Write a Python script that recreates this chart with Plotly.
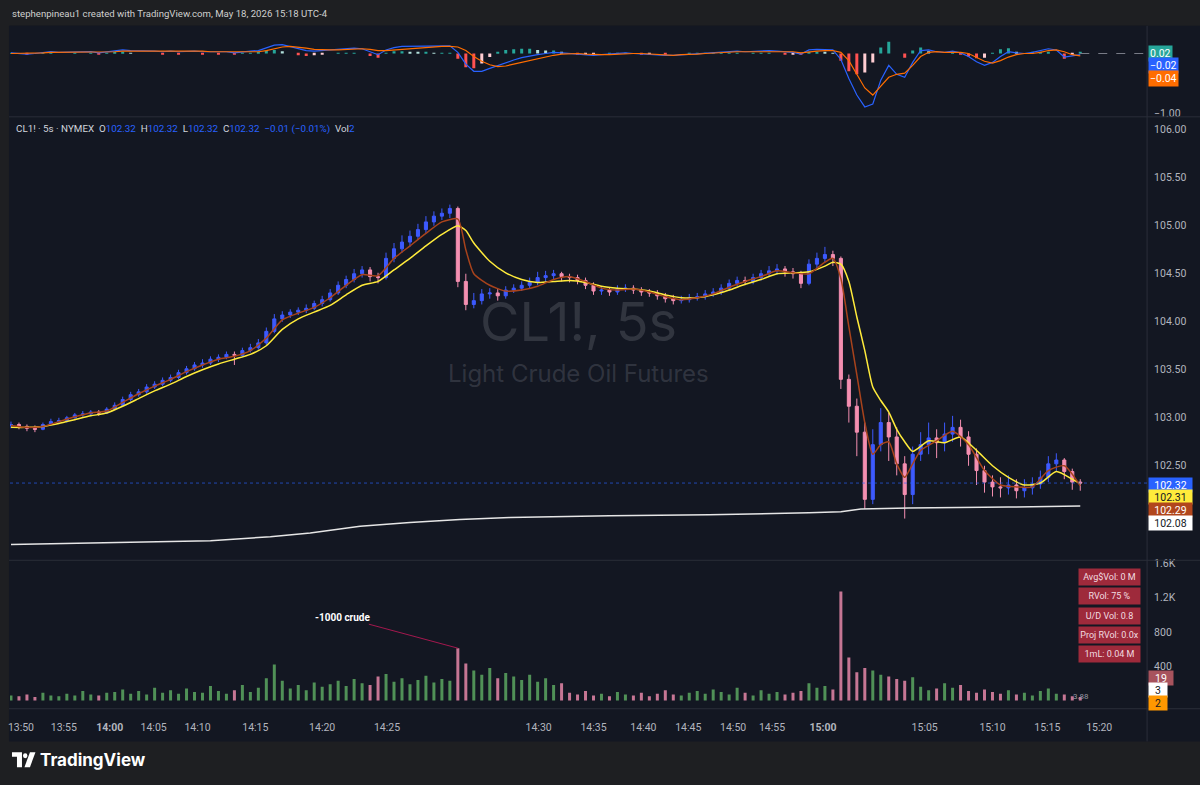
import plotly.graph_objects as go

W, H = 1200, 785
def px(x): return x / W
def py(y): return 1 - y / H

NAVY = "#131722"
FRAME = "#1e1f22"
SEP = "#2a2e39"
AX = "#b2b5be"
UP = "#3d5afe"
DN = "#f48fb1"
FONT = "Roboto"

# ---------------- data ----------------
bar_x = [8 * i for i in range(135)]   # bar index positions (x axis units)

close = [
    102.93, 102.91, 102.89, 102.88, 102.93, 102.96, 102.97, 103.00, 103.03, 103.04,
    103.06, 103.05, 103.09, 103.13, 103.19, 103.24, 103.27, 103.32, 103.35, 103.39,
    103.42, 103.47, 103.51, 103.55, 103.57, 103.61, 103.63, 103.66, 103.65, 103.70,
    103.73, 103.78, 103.90, 104.03, 104.07, 104.10, 104.12, 104.14, 104.19, 104.23,
    104.30, 104.38, 104.44, 104.50, 104.54, 104.47, 104.46, 104.66, 104.76, 104.83,
    104.89, 104.96, 105.04, 105.10, 105.13, 105.18, 104.42, 104.18, 104.22, 104.29,
    104.30, 104.27, 104.33, 104.35, 104.38, 104.41, 104.46, 104.48, 104.50, 104.47,
    104.46, 104.43, 104.38, 104.32, 104.33, 104.31, 104.34, 104.35, 104.33, 104.31,
    104.30, 104.27, 104.24, 104.22, 104.23, 104.25, 104.26, 104.29, 104.31, 104.35,
    104.40, 104.43, 104.42, 104.46, 104.50, 104.53, 104.55, 104.52, 104.50, 104.40,
    104.60, 104.66, 104.70, 104.66, 103.40, 103.12, 102.85, 102.15, 102.72, 102.95,
    102.80, 102.52, 102.20, 102.62, 102.72, 102.79, 102.74, 102.83, 102.90, 102.80,
    102.62, 102.45, 102.33, 102.28, 102.27, 102.30, 102.24, 102.27, 102.31, 102.38,
    102.52, 102.56, 102.44, 102.33, 102.32,
]
high = [
    102.96, 102.95, 102.93, 102.92, 102.95, 102.99, 103.00, 103.02, 103.05, 103.07,
    103.08, 103.08, 103.11, 103.16, 103.22, 103.27, 103.30, 103.35, 103.38, 103.42,
    103.45, 103.50, 103.54, 103.58, 103.61, 103.64, 103.66, 103.69, 103.69, 103.73,
    103.77, 103.82, 103.94, 104.08, 104.11, 104.13, 104.15, 104.18, 104.22, 104.27,
    104.34, 104.42, 104.48, 104.55, 104.58, 104.57, 104.51, 104.72, 104.82, 104.90,
    104.95, 105.02, 105.10, 105.15, 105.18, 105.22, 105.20, 104.50, 104.30, 104.34,
    104.35, 104.34, 104.37, 104.39, 104.42, 104.46, 104.52, 104.53, 104.54, 104.52,
    104.50, 104.49, 104.46, 104.41, 104.37, 104.36, 104.38, 104.39, 104.38, 104.36,
    104.34, 104.33, 104.30, 104.28, 104.27, 104.29, 104.30, 104.33, 104.35, 104.39,
    104.44, 104.47, 104.47, 104.50, 104.54, 104.58, 104.60, 104.58, 104.56, 104.53,
    104.65, 104.72, 104.78, 104.74, 104.68, 103.45, 103.20, 102.95, 102.88, 103.10,
    103.05, 102.90, 102.60, 102.70, 102.85, 102.95, 102.88, 102.95, 103.02, 102.98,
    102.86, 102.68, 102.50, 102.40, 102.38, 102.40, 102.36, 102.36, 102.38, 102.45,
    102.60, 102.63, 102.58, 102.47, 102.36,
]
low = [
    102.89, 102.88, 102.86, 102.85, 102.87, 102.92, 102.94, 102.95, 102.99, 103.01,
    103.02, 103.02, 103.04, 103.08, 103.12, 103.17, 103.22, 103.25, 103.30, 103.33,
    103.37, 103.40, 103.45, 103.49, 103.52, 103.55, 103.58, 103.61, 103.55, 103.63,
    103.68, 103.71, 103.76, 103.88, 104.00, 104.04, 104.07, 104.09, 104.12, 104.16,
    104.21, 104.28, 104.35, 104.41, 104.46, 104.42, 104.40, 104.44, 104.62, 104.72,
    104.78, 104.85, 104.92, 105.00, 105.06, 105.08, 104.36, 104.12, 104.14, 104.18,
    104.24, 104.22, 104.24, 104.30, 104.32, 104.35, 104.38, 104.42, 104.44, 104.42,
    104.41, 104.39, 104.34, 104.28, 104.28, 104.27, 104.28, 104.31, 104.29, 104.27,
    104.26, 104.23, 104.20, 104.18, 104.19, 104.20, 104.22, 104.23, 104.26, 104.28,
    104.32, 104.37, 104.38, 104.39, 104.43, 104.47, 104.49, 104.47, 104.45, 104.35,
    104.38, 104.56, 104.62, 104.58, 103.30, 102.95, 102.60, 102.05, 102.10, 102.65,
    102.55, 102.40, 101.95, 102.10, 102.55, 102.62, 102.58, 102.65, 102.75, 102.70,
    102.50, 102.30, 102.22, 102.18, 102.17, 102.20, 102.16, 102.17, 102.20, 102.26,
    102.33, 102.44, 102.36, 102.25, 102.24,
]
first_open = 102.92

vol = [
    60, 50, 70, 40, 90, 60, 50, 80, 60, 110,
    70, 60, 90, 100, 130, 80, 110, 70, 150, 90,
    120, 80, 140, 100, 90, 170, 110, 80, 120, 180,
    100, 150, 260, 420, 230, 140, 180, 120, 210, 160,
    190, 230, 170, 250, 200, 180, 280, 310, 220, 260,
    190, 240, 290, 210, 250, 230, 610, 430, 350, 300,
    380, 260, 320, 280, 240, 300, 220, 260, 180, 200,
    90, 70, 110, 60, 80, 50, 100, 70, 60, 90,
    50, 80, 120, 70, 60, 90, 110, 80, 130, 100,
    70, 150, 90, 60, 120, 80, 100, 70, 90, 110,
    200, 150, 170, 130, 1270, 500, 330, 380, 350, 300,
    280, 250, 230, 270, 160, 120, 140, 200, 150, 180,
    110, 90, 130, 100, 80, 120, 70, 90, 60, 110,
    140, 80, 70, 50, 40,
]

macd = [
    0.01, 0.00, -0.01, 0.00, 0.02, 0.03, 0.02, 0.02, 0.03, 0.02,
    0.03, 0.01, 0.03, 0.05, 0.06, 0.05, 0.05, 0.04, 0.04, 0.03,
    0.04, 0.03, 0.04, 0.04, 0.03, 0.03, 0.02, 0.03, 0.01, 0.03,
    0.04, 0.05, 0.10, 0.14, 0.15, 0.12, 0.08, 0.05, 0.04, 0.05,
    0.06, 0.07, 0.08, 0.09, 0.08, 0.03, -0.02, 0.06, 0.10, 0.12,
    0.12, 0.12, 0.13, 0.13, 0.13, 0.13, 0.02, -0.18, -0.30, -0.30,
    -0.25, -0.20, -0.15, -0.11, -0.07, -0.04, -0.02, 0.00, 0.02, 0.01,
    0.00, -0.01, -0.02, -0.03, -0.02, -0.01, 0.00, 0.01, 0.00, -0.01,
    -0.02, -0.02, -0.03, -0.03, -0.02, -0.01, 0.00, 0.01, 0.02, 0.03,
    0.04, 0.04, 0.03, 0.04, 0.05, 0.05, 0.04, 0.03, 0.02, -0.01,
    0.06, 0.07, 0.07, 0.06, -0.10, -0.42, -0.70, -0.90, -0.85, -0.45,
    -0.20, -0.35, -0.40, -0.15, 0.05, 0.06, 0.03, 0.02, 0.04, 0.01,
    -0.05, -0.14, -0.20, -0.15, -0.05, 0.03, 0.01, 0.00, 0.02, 0.05,
    0.08, 0.06, -0.06, -0.04, -0.02,
]
signal = [
    0.00, 0.00, 0.00, 0.00, 0.01, 0.02, 0.02, 0.02, 0.02, 0.02,
    0.02, 0.02, 0.02, 0.03, 0.04, 0.04, 0.05, 0.04, 0.04, 0.04,
    0.04, 0.04, 0.04, 0.04, 0.04, 0.03, 0.03, 0.03, 0.02, 0.02,
    0.03, 0.03, 0.05, 0.08, 0.11, 0.12, 0.11, 0.09, 0.07, 0.06,
    0.06, 0.06, 0.07, 0.08, 0.08, 0.07, 0.05, 0.05, 0.06, 0.08,
    0.09, 0.10, 0.11, 0.12, 0.12, 0.12, 0.11, 0.05, -0.05, -0.13,
    -0.19, -0.22, -0.21, -0.18, -0.15, -0.12, -0.08, -0.05, -0.03, -0.01,
    0.00, 0.00, -0.01, -0.02, -0.02, -0.02, -0.01, 0.00, 0.00, 0.00,
    -0.01, -0.02, -0.02, -0.03, -0.02, -0.02, -0.01, 0.00, 0.01, 0.02,
    0.03, 0.03, 0.03, 0.03, 0.04, 0.04, 0.04, 0.04, 0.03, 0.01,
    0.03, 0.04, 0.05, 0.05, 0.02, -0.12, -0.35, -0.58, -0.70, -0.55,
    -0.40, -0.35, -0.33, -0.20, -0.05, 0.02, 0.03, 0.02, 0.02, 0.02,
    0.00, -0.06, -0.13, -0.16, -0.12, -0.06, -0.02, 0.00, 0.00, 0.02,
    0.05, 0.06, 0.03, -0.02, -0.04,
]

slow_x = [0, 16, 32, 48, 64, 80, 96, 112, 128, 144, 160, 176, 192, 208, 224, 240, 256, 272,
          288, 304, 320, 336, 352, 368, 384, 400, 416, 432, 448, 456, 464, 480, 496, 512, 528,
          544, 560, 576, 592, 608, 624, 640, 656, 672, 688, 704, 720, 736, 752, 768, 784, 800,
          816, 824, 832, 840, 848, 856, 864, 872, 880, 888, 896, 904, 920, 936, 952, 968, 984,
          1000, 1016, 1032, 1048, 1064, 1072]
slow = [102.90, 102.90, 102.91, 102.94, 102.98, 103.02, 103.05, 103.12, 103.20, 103.28,
        103.35, 103.43, 103.50, 103.56, 103.61, 103.66, 103.75, 103.92, 104.03, 104.10,
        104.17, 104.28, 104.38, 104.42, 104.54, 104.66, 104.79, 104.91, 105.00, 104.95,
        104.82, 104.63, 104.51, 104.44, 104.41, 104.42, 104.43, 104.41, 104.37, 104.35,
        104.34, 104.32, 104.28, 104.25, 104.25, 104.28, 104.33, 104.39, 104.44, 104.50,
        104.51, 104.52, 104.58, 104.62, 104.60, 104.42, 104.05, 103.70, 103.32, 103.18,
        103.06, 102.88, 102.75, 102.65, 102.76, 102.74, 102.80, 102.66, 102.50, 102.38,
        102.30, 102.32, 102.44, 102.36, 102.31]

fast_x = [0, 16, 32, 48, 64, 80, 96, 112, 128, 144, 160, 176, 192, 208, 224, 240, 256, 272,
          288, 304, 320, 336, 352, 368, 384, 400, 416, 432, 448, 456, 464, 480, 496, 512, 528,
          544, 560, 576, 592, 608, 624, 640, 656, 672, 688, 704, 720, 736, 752, 768, 784, 800,
          816, 824, 832, 840, 848, 856, 864, 872, 880, 888, 896, 904, 912, 928, 944, 960, 976,
          992, 1008, 1024, 1040, 1056, 1072]
fast = [102.92, 102.90, 102.91, 102.96, 103.01, 103.05, 103.07, 103.16, 103.25, 103.33,
        103.40, 103.48, 103.55, 103.61, 103.64, 103.70, 103.83, 104.02, 104.09, 104.15,
        104.25, 104.38, 104.49, 104.48, 104.66, 104.79, 104.92, 105.04, 105.07, 104.75,
        104.50, 104.38, 104.32, 104.33, 104.37, 104.44, 104.47, 104.42, 104.35, 104.33,
        104.34, 104.31, 104.26, 104.23, 104.25, 104.29, 104.36, 104.42, 104.47, 104.53,
        104.51, 104.50, 104.62, 104.66, 104.45, 103.95, 103.45, 102.95, 102.62, 102.72,
        102.75, 102.52, 102.38, 102.52, 102.66, 102.76, 102.86, 102.72, 102.45, 102.30,
        102.28, 102.28, 102.45, 102.50, 102.29]

vwap_x = [0, 100, 200, 260, 300, 350, 400, 450, 500, 600, 700, 800, 832, 852, 900, 1000, 1072]
vwap = [101.68, 101.70, 101.72, 101.76, 101.80, 101.87, 101.91, 101.94, 101.96, 101.98,
        101.99, 102.01, 102.02, 102.05, 102.06, 102.07, 102.08]

tick_vals = [10, 53, 99, 143, 187, 245, 312, 377, 529, 584, 634, 679, 724, 763, 814, 916, 984, 1039, 1091]
tick_text = ["13:50", "13:55", "<b>14:00</b>", "14:05", "14:10", "14:15", "14:20", "14:25",
             "14:30", "14:35", "14:40", "14:45", "14:50", "14:55", "<b>15:00</b>", "15:05",
             "15:10", "15:15", "15:20"]

assert len(close) == len(high) == len(low) == len(vol) == len(macd) == len(signal) == len(bar_x)
assert len(slow_x) == len(slow) and len(fast_x) == len(fast) and len(vwap_x) == len(vwap)

# ---------------- derived ----------------
open_ = [first_open] + close[:-1]
is_up = [c >= o for o, c in zip(open_, close)]
vol_colors = ["rgba(102,187,106,0.75)" if u else "rgba(244,143,177,0.8)" for u in is_up]
hist = [round(m - s, 3) for m, s in zip(macd, signal)]
hist_colors = []
for i, h in enumerate(hist):
    prev = hist[i - 1] if i else 0
    if h >= 0:
        hist_colors.append("#26a69a" if h >= prev else "#b2dfdb")
    else:
        hist_colors.append("#ff5252" if h < prev else "#ffcdd2")

fig = go.Figure()
# volume
fig.add_trace(go.Bar(x=bar_x, y=vol, marker=dict(color=vol_colors, line=dict(width=0)),
                     width=3, xaxis="x", yaxis="y", hoverinfo="skip"))
# price
fig.add_trace(go.Candlestick(x=bar_x, open=open_, high=high, low=low, close=close,
                             xaxis="x", yaxis="y2", whiskerwidth=0,
                             increasing=dict(line=dict(color=UP, width=1), fillcolor=UP),
                             decreasing=dict(line=dict(color=DN, width=1), fillcolor=DN)))
fig.add_trace(go.Scatter(x=vwap_x, y=vwap, mode="lines", xaxis="x", yaxis="y2",
                         line=dict(color="#e6e6e6", width=1.5)))
fig.add_trace(go.Scatter(x=slow_x, y=slow, mode="lines", xaxis="x", yaxis="y2",
                         line=dict(color="#ffeb3b", width=1.5, shape="spline", smoothing=0.6)))
fig.add_trace(go.Scatter(x=fast_x, y=fast, mode="lines", xaxis="x", yaxis="y2",
                         line=dict(color="#a8431c", width=1.5, shape="spline", smoothing=0.6)))
# macd
fig.add_trace(go.Bar(x=bar_x, y=hist, marker=dict(color=hist_colors, line=dict(width=0)),
                     width=3, xaxis="x", yaxis="y3", hoverinfo="skip"))
fig.add_trace(go.Scatter(x=bar_x, y=macd, mode="lines", xaxis="x", yaxis="y3",
                         line=dict(color="#2962ff", width=1.2)))
fig.add_trace(go.Scatter(x=bar_x, y=signal, mode="lines", xaxis="x", yaxis="y3",
                         line=dict(color="#ff6d00", width=1.2)))

axis_common = dict(showgrid=False, zeroline=False, showline=False, ticks="",
                   side="right", anchor="x", ticklabelstandoff=6,
                   tickfont=dict(family=FONT, size=10.5, color=AX), fixedrange=True)

fig.update_layout(
    width=W, height=H, margin=dict(l=0, r=0, t=0, b=0),
    paper_bgcolor=FRAME, plot_bgcolor=NAVY, showlegend=False,
    barmode="overlay", boxgap=0.45,
    font=dict(family=FONT, color=AX, size=11),
    xaxis=dict(domain=[px(8), px(1147)], range=[-1, 1139], anchor="y",
               showgrid=False, zeroline=False, showline=False, ticks="",
               tickmode="array", tickvals=tick_vals, ticktext=tick_text,
               ticklabelstandoff=12, tickfont=dict(family=FONT, size=10.5, color=AX),
               rangeslider=dict(visible=False)),
    yaxis=dict(domain=[py(711), py(563)], range=[-84, 1622],
               tickvals=[400, 800, 1200, 1600], ticktext=["400", "800", "1.2K", "1.6K"],
               **axis_common),
    yaxis2=dict(domain=[py(561), py(115)], range=[101.526, 106.124],
                tickvals=[102.5, 103.0, 103.5, 104.0, 104.5, 105.0, 105.5, 106.0],
                tickformat=".2f", **axis_common),
    yaxis3=dict(domain=[py(113), py(22)], range=[-1.05, 0.467],
                tickvals=[-1.0], ticktext=["\u22121.00"],
                **axis_common),
)

shapes = []
# chart body background
shapes.append(dict(type="rect", xref="paper", yref="paper", x0=px(7), x1=1, y0=py(745), y1=py(22),
                   fillcolor=NAVY, line=dict(width=0), layer="below"))
# separators
for yy in (114, 562, 712):
    shapes.append(dict(type="line", xref="paper", yref="paper", x0=px(7), x1=1, y0=py(yy), y1=py(yy),
                       line=dict(color=SEP, width=1), layer="above"))
shapes.append(dict(type="line", xref="paper", yref="paper", x0=px(1147), x1=px(1147), y0=py(745), y1=py(22),
                   line=dict(color=SEP, width=1), layer="above"))
# current price line
shapes.append(dict(type="line", xref="paper", yref="y2", x0=px(8), x1=px(1147), y0=close[-1], y1=close[-1],
                   line=dict(color="rgba(41,98,255,0.65)", width=1, dash="dot"), layer="above"))
shapes.append(dict(type="line", xref="x", yref="y3", x0=bar_x[-1], x1=1139, y0=0, y1=0,
                   line=dict(color="#787b86", width=1, dash="dash"), layer="above"))

# TradingView logo
def path(pts):
    return "M " + " L ".join(f"{px(x)},{py(y)}" for x, y in pts) + " Z"
shapes.append(dict(type="path", xref="paper", yref="paper",
                   path=path([(10, 756), (20, 756), (20, 771), (15, 771), (15, 760.5), (10, 760.5)]),
                   fillcolor="white", line=dict(width=0)))
shapes.append(dict(type="circle", xref="paper", yref="paper", x0=px(21), x1=px(25.5), y0=py(762), y1=py(757),
                   fillcolor="white", line=dict(width=0)))
shapes.append(dict(type="path", xref="paper", yref="paper",
                   path=path([(28, 756), (33.5, 756), (28, 771), (22.5, 771)]),
                   fillcolor="white", line=dict(width=0)))
fig.update_layout(shapes=shapes)

ann = []
def text(x, y, t, size=11, color="#d1d4dc", xanchor="left", family=FONT, **kw):
    ann.append(dict(xref="paper", yref="paper", x=px(x), y=py(y), text=t, showarrow=False,
                    xanchor=xanchor, yanchor="middle", font=dict(family=family, size=size, color=color), **kw))

text(8, 10, "stephenpineau1 created with TradingView.com, May 18, 2026 15:18 UTC-4", 9.6, "#cfcfcf")
text(36, 764, "<b>TradingView</b>", 17, "#ffffff", family="Inter")

B = "#2962ff"
nb = "\u00a0"
legend = (f'<span style="color:#d1d4dc">CL1! · 5s · NYMEX</span>{nb*2}'
          f'O<span style="color:{B}">102.32</span>{nb*2}'
          f'H<span style="color:{B}">102.32</span>{nb*2}'
          f'L<span style="color:{B}">102.32</span>{nb*2}'
          f'C<span style="color:{B}">102.32</span>{nb*2}'
          f'<span style="color:{B}">\u22120.01 (\u22120.01%)</span>{nb*2}'
          f'Vol<span style="color:{B}">2</span>')
text(12, 126, legend, 9.8, "#d1d4dc")

# watermark
WM = "rgba(120,123,134,0.30)"
text(577, 321, "CL1!, 5s", 54, WM, xanchor="center", family="Inter")
text(577, 373, "Light Crude Oil Futures", 24, WM, xanchor="center", family="Inter")

def badge(y, t, bg, fg, w=None, x=1148):
    d = dict(xref="paper", yref="paper", x=px(x), y=py(y), text=t, showarrow=False,
             xanchor="left", yanchor="middle", bgcolor=bg, borderpad=1,
             font=dict(family=FONT, size=10.5, color=fg))
    if w:
        d.update(width=w, height=12, align="center")
    ann.append(d)

badge(486, "102.32", "#2962ff", "#ffffff", 41)
badge(498, "102.31", "#ffeb3b", "#131722", 41)
badge(511, "102.29", "#b1461c", "#ffffff", 41)
badge(524, "102.08", "#ffffff", "#131722", 41)

badge(50, "0.02", "#26a69a", "#ffffff")
badge(62.5, "\u22120.02", "#2962ff", "#ffffff")
badge(75, "\u22120.04", "#ff6d00", "#ffffff")

badge(681, "19", "#a8535d", "#ffffff", 22)
badge(693, "3", "#ffffff", "#131722", 16)
badge(706, "2", "#ff9800", "#131722", 16)

for yy, t in zip([579, 598, 618, 638, 657],
                 ["Avg$Vol: 0 M", "RVol: 75 %", "U/D Vol: 0.8", "Proj RVol: 0.0x", "1mL: 0.04 M"]):
    ann.append(dict(xref="paper", yref="paper", x=px(1109), y=py(yy), text=t, showarrow=False,
                    xanchor="center", yanchor="middle", bgcolor="#9e2a3b", width=60, height=15,
                    borderpad=0.5, font=dict(family=FONT, size=9, color="#f2dde0")))

text(1081, 700, "3.88", 8, "#9598a1", xanchor="center")

# annotation on volume spike
ann.append(dict(xref="x", yref="y", x=bar_x[56], y=vol[56], text="<b>-1000 crude</b>",
                showarrow=True, arrowhead=0, arrowwidth=1, arrowcolor="#a3184e",
                ax=-115, ay=-31, standoff=0,
                font=dict(family=FONT, size=10, color="#ffffff")))

fig.update_layout(annotations=ann)
fig.write_html("out.html", config={"displayModeBar": False},
               post_script="document.body.style.margin='0';document.body.style.background='#1e1f22';")
